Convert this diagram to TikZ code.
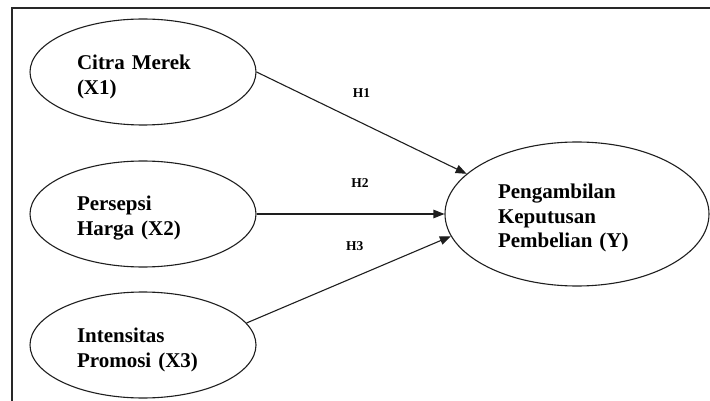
\documentclass[tikz,border=0pt]{standalone}
\usepackage{fontspec}
\setmainfont{Liberation Serif}
\usepackage{tikz}
\usetikzlibrary{arrows.meta,positioning,shapes.geometric}
\definecolor{cLine}{RGB}{30,30,30}
\definecolor{cFrame}{RGB}{40,40,40}
\tikzset{
	varoval/.style={draw=cLine, line width=1.1pt, ellipse, inner sep=0pt,
		minimum width=226pt, minimum height=106pt},
	depoval/.style={varoval, minimum width=264pt, minimum height=144pt},
	vartext/.style={align=left, text width=132pt, inner sep=0pt,
		font=\fontsize{21}{24.5}\selectfont\bfseries},
	hyparr/.style={-{Triangle[length=11pt,width=8.5pt]}, line width=1.1pt,
		draw=cLine},
	hyplbl/.style={inner sep=0pt, font=\fontsize{13.5}{16}\selectfont\bfseries},
	frameline/.style={line width=1.8pt, draw=cFrame},
}

\begin{document}
\begin{tikzpicture}[x=1pt, y=1pt]
	\useasboundingbox (0,0) rectangle (710,-401);
	\draw[frameline] (12,-401) -- (12,-8) -- (710,-8);
	% latent variables
	\node[varoval] (x1) at (143,-72) {};
	\node[varoval] (x2) at (143,-214) {};
	\node[varoval] (x3) at (143,-345) {};
	\node[depoval] (y) at (577,-214) {};
	\node[vartext] (x1t) at ([yshift=-5pt]x1.center) {Citra Merek\\(X1)};
	\node[vartext] (x2t) at ([yshift=-4pt]x2.center) {Persepsi\\Harga (X2)};
	\node[vartext] (x3t) at ([yshift=-5pt]x3.center) {Intensitas\\Promosi (X3)};
	\node[vartext, text width=158pt] (yt) at ([yshift=-4pt]y.center)
		{Pengambilan\\Keputusan\\Pembelian (Y)};
	% hypotheses
	\draw[hyparr] (x1.east) -- node[hyplbl, pos=0.5, above=25pt] {H1} (y.160);
	\draw[hyparr] (x2.east) -- node[hyplbl, pos=0.55, above=26pt] {H2} (y.west);
	\draw[hyparr] (x3.12) -- node[hyplbl, pos=0.53, above=26pt] {H3} (y.190);
\end{tikzpicture}
\end{document}
